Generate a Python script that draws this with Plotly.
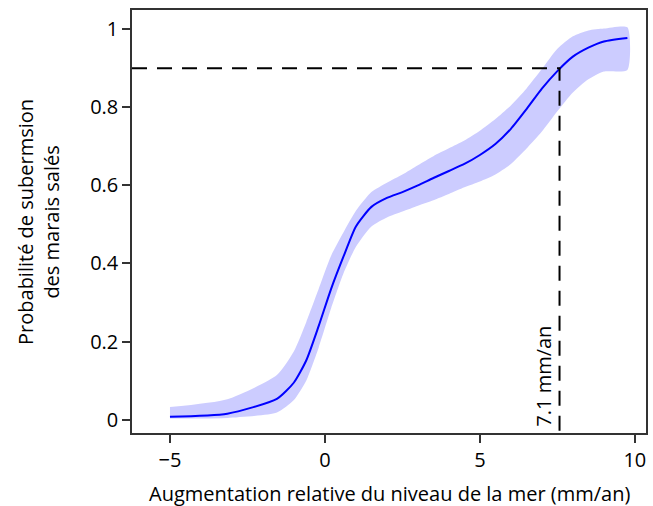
import plotly.graph_objects as go

# Data
x_vals = [-5, -3.15, -1.55, -1.0, -0.6, -0.2, 0.2, 0.6, 1.0, 1.5, 2.0, 2.5, 3.0,
          3.5, 4.0, 4.5, 5.0, 5.5, 6.0, 6.5, 7.0, 7.5, 8.0, 8.5, 9.0, 9.76]
prob_mean = [0.007, 0.015, 0.053, 0.095, 0.152, 0.24, 0.335, 0.418, 0.495, 0.545,
             0.568, 0.583, 0.600, 0.619, 0.637, 0.655, 0.678, 0.706, 0.745, 0.795,
             0.848, 0.893, 0.930, 0.953, 0.969, 0.978]
prob_upper = [0.032, 0.052, 0.114, 0.175, 0.25, 0.335, 0.42, 0.48, 0.535, 0.583,
              0.607, 0.628, 0.652, 0.675, 0.695, 0.715, 0.740, 0.770, 0.805, 0.848,
              0.898, 0.950, 0.982, 0.997, 1.002, 1.005]
prob_lower = [0.003, 0.004, 0.018, 0.05, 0.10, 0.185, 0.285, 0.375, 0.443, 0.495,
              0.518, 0.533, 0.548, 0.562, 0.578, 0.595, 0.610, 0.628, 0.655, 0.694,
              0.738, 0.79, 0.838, 0.872, 0.892, 0.896]
threshold_x = 7.57
threshold_y = 0.9
x_ticks = [-5, 0, 5, 10]
x_tick_labels = ["\u22125", "0", "5", "10"]
y_ticks = [0, 0.2, 0.4, 0.6, 0.8, 1]
y_tick_labels = ["0", "0.2", "0.4", "0.6", "0.8", "1"]

x_range = [-6.225, 10.36]
y_range = [-0.0344, 1.0495]

FONT = "Open Sans"
FS = 20

fig = go.Figure()
fig.add_trace(go.Scatter(
    x=x_vals + x_vals[::-1], y=prob_upper + prob_lower[::-1],
    fill="toself", fillcolor="rgb(204,204,255)",
    line=dict(width=0, shape="spline", smoothing=0.6),
    mode="lines", hoverinfo="skip", showlegend=False))
fig.add_trace(go.Scatter(
    x=x_vals, y=prob_mean, mode="lines",
    line=dict(color="#0000ff", width=2, shape="spline", smoothing=0.6),
    showlegend=False))
# Dashed threshold lines
fig.add_trace(go.Scatter(
    x=[x_range[0], threshold_x, threshold_x], y=[threshold_y, threshold_y, y_range[0]],
    mode="lines", line=dict(color="black", width=2, dash="15px,10px"),
    showlegend=False, hoverinfo="skip"))

fig.add_annotation(x=7.05, y=0.111, xref="x", yref="y", text="7.1 mm/an",
                   textangle=-90, showarrow=False,
                   font=dict(family=FONT, size=FS, color="black"))
fig.add_annotation(x=-0.182, y=0.5, xref="paper", yref="paper",
                   text="Probabilité de subermsion<br>des marais salés",
                   textangle=-90, showarrow=False, xanchor="center", yanchor="middle",
                   font=dict(family=FONT, size=FS, color="black"))
fig.add_annotation(x=0.5, y=-0.144, xref="paper", yref="paper",
                   text="Augmentation relative du niveau de la mer (mm/an)",
                   showarrow=False, xanchor="center", yanchor="middle",
                   font=dict(family=FONT, size=FS, color="black"))

axis_common = dict(showline=True, linecolor="#333333", linewidth=1.5, mirror=True,
                   ticks="outside", ticklen=8, tickwidth=1.5, tickcolor="#333333",
                   showgrid=False, zeroline=False,
                   tickfont=dict(family=FONT, size=FS, color="black"))
fig.update_xaxes(range=x_range, tickvals=x_ticks, ticktext=x_tick_labels, **axis_common)
fig.update_yaxes(range=y_range, tickvals=y_ticks, ticktext=y_tick_labels, **axis_common)

fig.update_layout(width=653, height=506, margin=dict(l=132, r=5, t=10, b=73),
                  paper_bgcolor="white", plot_bgcolor="white",
                  font=dict(family=FONT, size=FS, color="black"))
fig.write_html("out.html", config={"displayModeBar": False},
               post_script="document.body.style.margin='0';")
